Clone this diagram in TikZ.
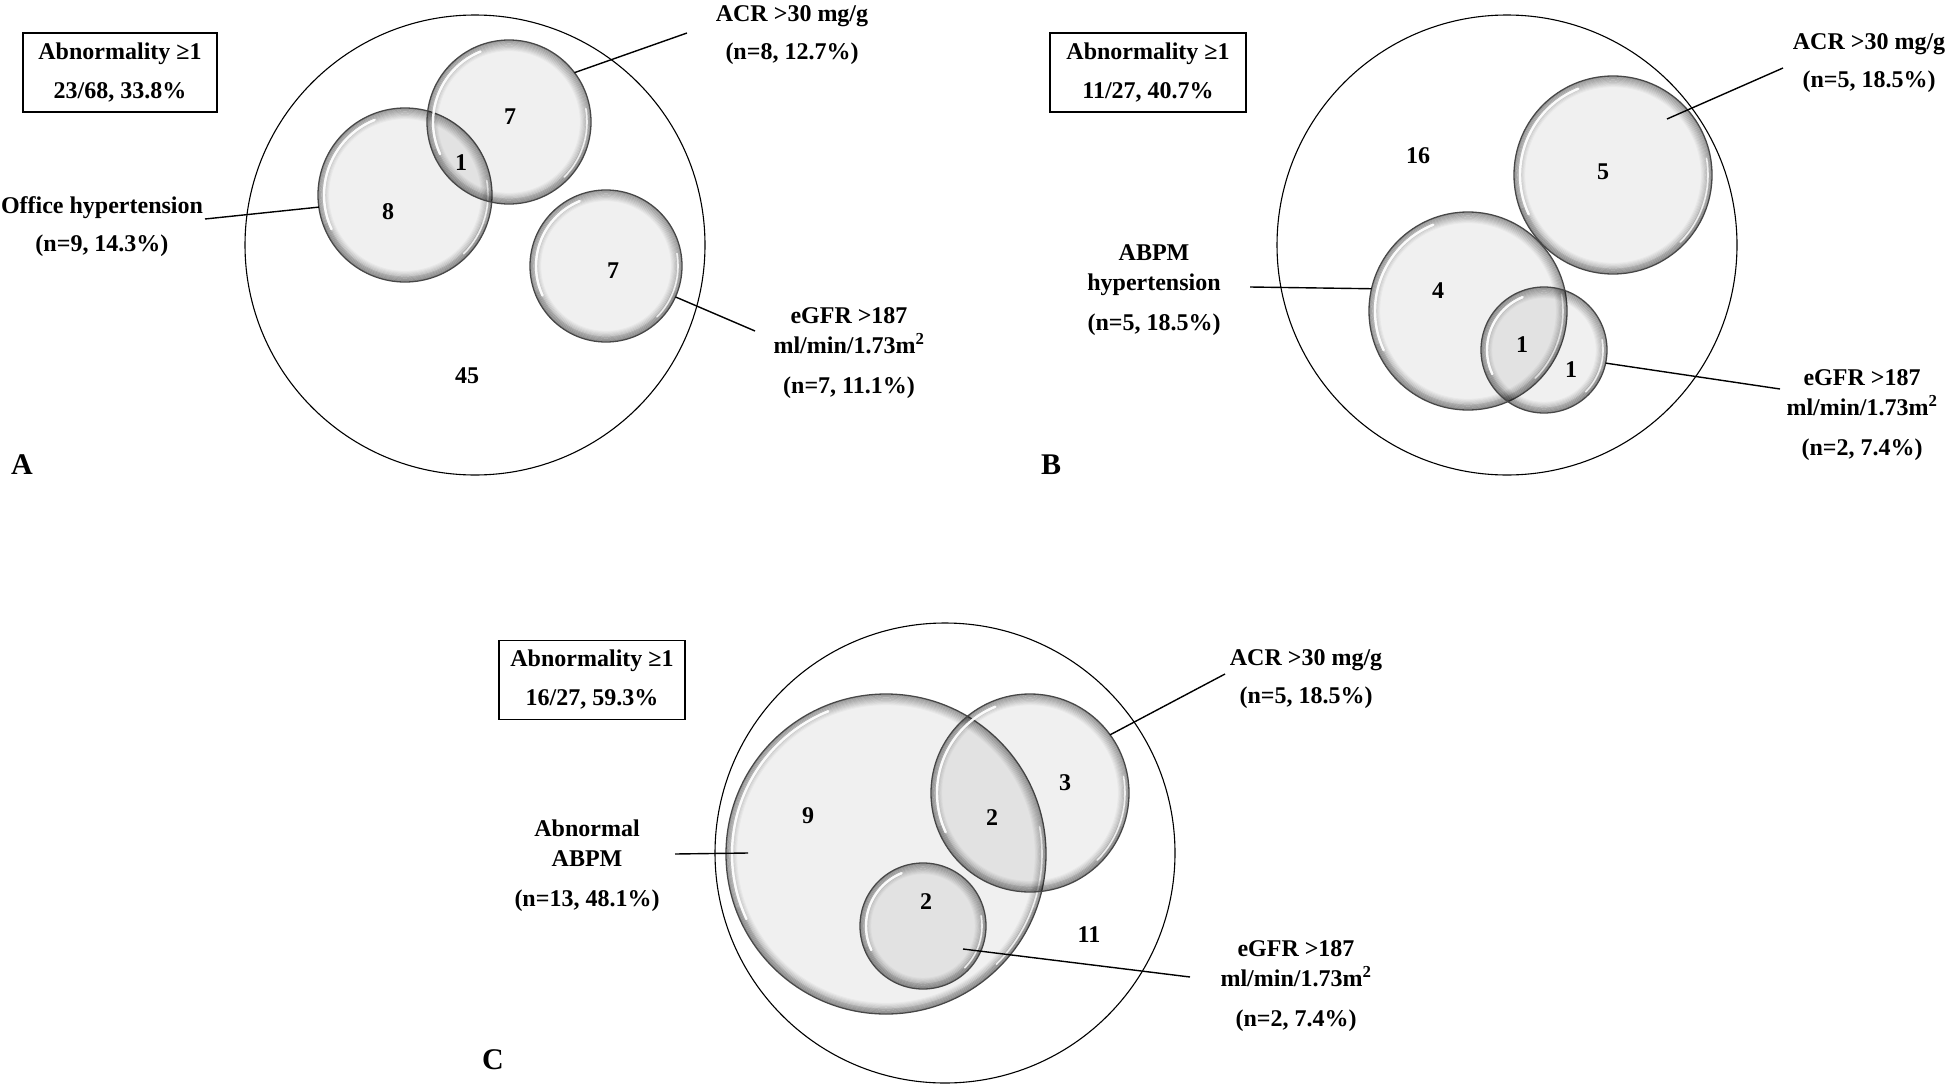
\documentclass[tikz,border=0pt]{standalone}
\usepackage{fontspec}
\setmainfont{Liberation Serif}
\newcommand\labelfont{\fontsize{24}{30}\selectfont\bfseries}
\newcommand\letterfont{\fontsize{30}{36}\selectfont\bfseries}
\tikzset{
  universe/.style={circle, inner sep=0pt, outer sep=0pt, minimum size={2*#1pt},
    draw=black, line width=1.1pt},
  bubble/.style={circle, inner sep=0pt, outer sep=0pt, minimum size={2*#1pt},
    draw=black!72, line width=1.3pt, fill=black, fill opacity=.06,
    path picture={
      \begin{scope}[x=1pt, y=1pt, shift={(path picture bounding box.center)}]
        \foreach \k in {0,...,9}
          \draw[black, draw opacity={0.3-0.03*\k}, line width=1.3pt] (0,0) circle[radius={#1-0.6-1.1*\k}];
        \draw[black, draw opacity=.08, line width=5pt] (200:{#1-3}) arc[start angle=200, end angle=340, radius={#1-3}];
        \draw[white, draw opacity=.95, line width=2.4pt, line cap=round] (112:{#1-6}) arc[start angle=112, end angle=205, radius={#1-6}];
        \draw[white, draw opacity=.8, line width=1.6pt, line cap=round] (-45:{#1-4}) arc[start angle=-45, end angle=10, radius={#1-4}];
      \end{scope}}},
  tally/.style={font=\labelfont, inner sep=0pt},
  tag/.style={font=\labelfont, align=center, inner sep=0pt},
  summary/.style={draw=black, line width=1.3pt, font=\labelfont, align=center,
    inner sep=0pt, minimum height=79pt},
  panel/.style={font=\letterfont, inner sep=0pt},
  leader/.style={draw=black, line width=1.4pt}
}
\begin{document}
\begin{tikzpicture}[x=1pt, y=-1pt]
\useasboundingbox (0,0) rectangle (1952,1084);

% ---- panel A
\node[universe=230] (allA) at (475,245) {};
\node[bubble=87] (htA) at (405,195) {};
\node[bubble=82] (acrA) at (509,122) {};
\node[bubble=76] (egfrA) at (606,266) {};

\node[tally] (nHtA) at (388,212) {8};
\node[tally] (nBothA) at (461,163) {1};
\node[tally] (nAcrA) at (510,117) {7};
\node[tally] (nEgfrA) at (613,271) {7};
\node[tally] (nRestA) at (467,376) {45};

\node[summary, minimum width=194pt] (boxA) at (120,72.5) {Abnormality ≥1\\[9pt]23/68, 33.8\%};
\node[tag] (acrAtag) at (792,35) {ACR >30 mg/g\\[8pt](n=8, 12.7\%)};
\node[tag] (htAtag) at (102,227) {Office hypertension\\[8pt](n=9, 14.3\%)};
\node[tag] (egfrAtag) at (849,353) {eGFR >187\\ml/min/1.73m\textsuperscript{2}\\[10pt](n=7, 11.1\%)};
\node[panel] (letterA) at (22,465) {A};

\coordinate (acrAend) at (687,33);
\coordinate (htAend) at (205,219);
\coordinate (egfrAend) at (755,331);
\draw[leader] (acrA.37) -- (acrAend);
\draw[leader] (htAend) -- (htA.188);
\draw[leader] (egfrA.-24) -- (egfrAend);

% ---- panel B
\node[universe=230] (allB) at (1507,245) {};
\node[bubble=99] (acrB) at (1613,175) {};
\node[bubble=99] (abpmB) at (1468,311) {};
\node[bubble=63] (egfrB) at (1544,350) {};

\node[tally] (nRestB) at (1418,156) {16};
\node[tally] (nAcrB) at (1603,172) {5};
\node[tally] (nAbpmB) at (1438,291) {4};
\node[tally] (nBothB) at (1522,345) {1};
\node[tally] (nEgfrB) at (1571,370) {1};

\node[summary, minimum width=196pt] (boxB) at (1148,72.5) {Abnormality ≥1\\[9pt]11/27, 40.7\%};
\node[tag] (acrBtag) at (1869,63) {ACR >30 mg/g\\[8pt](n=5, 18.5\%)};
\node[tag] (abpmBtag) at (1154,290) {ABPM\\hypertension\\[10pt](n=5, 18.5\%)};
\node[tag] (egfrBtag) at (1862,415) {eGFR >187\\ml/min/1.73m\textsuperscript{2}\\[10pt](n=2, 7.4\%)};
\node[panel] (letterB) at (1051,465) {B};

\coordinate (acrBin) at (1667,119);
\coordinate (acrBend) at (1783,68);
\coordinate (abpmBend) at (1250,287);
\coordinate (egfrBend) at (1780,389);
\draw[leader] (acrBin) -- (acrBend);
\draw[leader] (abpmBend) -- (abpmB.167);
\draw[leader] (egfrB.-12) -- (egfrBend);

% ---- panel C
\node[universe=230] (allC) at (945,853) {};
\node[bubble=160] (abpmC) at (886,854) {};
\node[bubble=99] (acrC) at (1030,793) {};
\node[bubble=63] (egfrC) at (923,926) {};

\node[tally] (nAbpmC) at (808,816) {9};
\node[tally] (nBothC) at (992,818) {2};
\node[tally] (nAcrC) at (1065,783) {3};
\node[tally] (nEgfrC) at (926,902) {2};
\node[tally] (nRestC) at (1089,935) {11};

\node[summary, minimum width=186pt] (boxC) at (592,680) {Abnormality ≥1\\[9pt]16/27, 59.3\%};
\node[tag] (acrCtag) at (1306,679) {ACR >30 mg/g\\[8pt](n=5, 18.5\%)};
\node[tag] (abpmCtag) at (587,866) {Abnormal\\ABPM\\[10pt](n=13, 48.1\%)};
\node[tag] (egfrCtag) at (1296,986) {eGFR >187\\ml/min/1.73m\textsuperscript{2}\\[10pt](n=2, 7.4\%)};
\node[panel] (letterC) at (493,1060) {C};

\coordinate (acrCend) at (1225,674);
\coordinate (abpmCend) at (675,854);
\coordinate (abpmCin) at (748,853);
\coordinate (egfrCin) at (963,949);
\coordinate (egfrCend) at (1190,977);
\draw[leader] (acrC.36) -- (acrCend);
\draw[leader] (abpmCend) -- (abpmCin);
\draw[leader] (egfrCin) -- (egfrCend);

\end{tikzpicture}
\end{document}
